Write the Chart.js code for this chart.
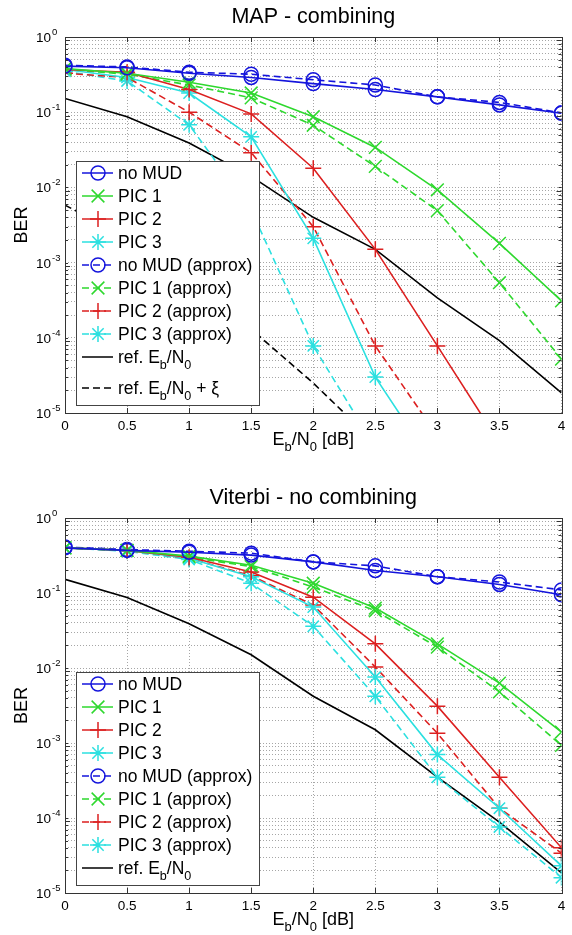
<!DOCTYPE html>
<html>
<head>
<meta charset="utf-8">
<script src="https://cdn.jsdelivr.net/npm/chart.js@4.4.0/dist/chart.umd.min.js"></script>
<style>
body{margin:0;background:#fff;}
canvas{display:block;}
</style>
</head>
<body>
<canvas id="map-chart" width="572" height="467"></canvas>
<canvas id="viterbi-chart" width="572" height="468"></canvas>
<script>
var ebn0 = [0, 0.5, 1, 1.5, 2, 2.5, 3, 3.5, 4];
var xTickLabels = ['0', '0.5', '1', '1.5', '2', '2.5', '3', '3.5', '4'];
var yExponents = [0, -1, -2, -3, -4, -5];
var minorSteps = [1, 2, 3, 4, 5, 6, 7, 8, 9];

// MAP - combining
var mapNoMud       = [0.41, 0.39, 0.33, 0.29, 0.24, 0.20, 0.16, 0.125, 0.097];
var mapPic1        = [0.38, 0.33, 0.25, 0.18, 0.087, 0.034, 0.0093, 0.0018, 0.00031];
var mapPic2        = [0.37, 0.34, 0.20, 0.095, 0.018, 0.0015, 0.000078, 0.000004, null];
var mapPic3        = [0.37, 0.29, 0.18, 0.047, 0.0021, 0.00003, 0.0000017, null, null];
var mapNoMudApprox = [0.42, 0.40, 0.34, 0.32, 0.27, 0.23, 0.16, 0.135, 0.098];
var mapPic1Approx  = [0.37, 0.32, 0.23, 0.155, 0.067, 0.019, 0.0049, 0.00054, 0.000052];
var mapPic2Approx  = [0.33, 0.29, 0.10, 0.029, 0.003, 0.000078, 0.000005, null, null];
var mapPic3Approx  = [0.35, 0.26, 0.068, 0.005, 0.000078, 0.0000035, null, null, null];
var mapRef         = [0.152, 0.087, 0.039, 0.014, 0.004, 0.0015, 0.00034, 0.000092, 0.0000185];
var mapRefXi       = [0.0058, 0.0022, 0.0007, 0.00013, 0.000025, 0.000004, null, null, null];

// Viterbi - no combining
var vitNoMud       = [0.40, 0.37, 0.35, 0.32, 0.26, 0.20, 0.165, 0.13, 0.095];
var vitPic1        = [0.40, 0.37, 0.31, 0.235, 0.135, 0.063, 0.021, 0.0063, 0.0014];
var vitPic2        = [0.40, 0.37, 0.30, 0.19, 0.088, 0.021, 0.0031, 0.00035, 0.00004];
var vitPic3        = [0.40, 0.37, 0.29, 0.165, 0.065, 0.0076, 0.0007, 0.000135, 0.000023];
var vitNoMudApprox = [0.41, 0.38, 0.36, 0.34, 0.26, 0.23, 0.165, 0.14, 0.11];
var vitPic1Approx  = [0.40, 0.37, 0.30, 0.225, 0.12, 0.058, 0.019, 0.0048, 0.00093];
var vitPic2Approx  = [0.40, 0.37, 0.29, 0.17, 0.069, 0.0103, 0.00135, 0.000135, 0.000034];
var vitPic3Approx  = [0.40, 0.36, 0.28, 0.135, 0.036, 0.0042, 0.00035, 0.000076, 0.000016];
var vitRef         = [0.152, 0.087, 0.039, 0.015, 0.0042, 0.0015, 0.00035, 0.000088, 0.0000185];

var BLUE = '#1414dc', GREEN = '#2ed82e', RED = '#dc2020', CYAN = '#2ce0e0', BLACK = '#000';
var FONT = '"Liberation Sans", Arial, Helvetica, sans-serif';

var yGrid = [];
yExponents.forEach(function (e) {
  minorSteps.forEach(function (m) {
    var v = m * Math.pow(10, e);
    if (v <= 1 && v >= 1e-5) yGrid.push(v);
  });
});

function pts(vals) {
  return ebn0.map(function (x, i) { return {x: x, y: vals[i]}; });
}

function series(label, vals, color, marker, dashed) {
  var radius = {circle: 7, crossRot: 9, cross: 8, star: 8}[marker] || 0;
  return {
    label: label,
    data: pts(vals),
    borderColor: color,
    borderWidth: 1.6,
    borderDash: dashed ? [7, 4] : [],
    pointStyle: marker || 'circle',
    pointRadius: radius,
    pointHoverRadius: radius,
    pointBorderColor: color,
    pointBackgroundColor: 'rgba(0,0,0,0)',
    pointBorderWidth: 1.5,
    fill: false,
    tension: 0
  };
}

function richParts(s) {
  var out = [], buf = '', i = 0;
  while (i < s.length) {
    if (s[i] === '_') {
      if (buf) out.push({t: buf, sub: false});
      buf = '';
      out.push({t: s[i + 1], sub: true});
      i += 2;
    } else {
      buf += s[i];
      i++;
    }
  }
  if (buf) out.push({t: buf, sub: false});
  return out;
}

function drawRich(ctx, s, x, y, size, align) {
  var parts = richParts(s), total = 0;
  parts.forEach(function (p) {
    ctx.font = (p.sub ? size * 0.72 : size) + 'px ' + FONT;
    p.w = ctx.measureText(p.t).width;
    total += p.w;
  });
  if (align === 'center') x -= total / 2;
  ctx.textAlign = 'left';
  ctx.textBaseline = 'alphabetic';
  parts.forEach(function (p) {
    ctx.font = (p.sub ? size * 0.72 : size) + 'px ' + FONT;
    ctx.fillText(p.t, x, p.sub ? y + size * 0.32 : y);
    x += p.w;
  });
}

var decor = {
  id: 'decor',
  afterDraw: function (chart, args, opts) {
    var ctx = chart.ctx, a = chart.chartArea;
    var xs = chart.scales.x, ys = chart.scales.y;
    ctx.save();
    ctx.fillStyle = '#000';
    ctx.strokeStyle = '#333';
    ctx.lineWidth = 1;

    // inward tick marks
    ctx.beginPath();
    ebn0.forEach(function (v) {
      var px = Math.round(xs.getPixelForValue(v)) + 0.5;
      ctx.moveTo(px, a.bottom); ctx.lineTo(px, a.bottom - 5);
      ctx.moveTo(px, a.top); ctx.lineTo(px, a.top + 5);
    });
    yGrid.forEach(function (v, i) {
      var py = Math.round(ys.getPixelForValue(v)) + 0.5;
      var len = (i % 9 === 0) ? 5 : 3;
      ctx.moveTo(a.left, py); ctx.lineTo(a.left + len, py);
      ctx.moveTo(a.right, py); ctx.lineTo(a.right - len, py);
    });
    ctx.stroke();
    ctx.strokeRect(Math.round(a.left) + 0.5, Math.round(a.top) + 0.5,
      Math.round(a.right - a.left), Math.round(a.bottom - a.top));

    // tick labels
    ctx.font = '13.5px ' + FONT;
    ctx.textAlign = 'center';
    ctx.textBaseline = 'alphabetic';
    xTickLabels.forEach(function (t) {
      ctx.fillText(t, xs.getPixelForValue(parseFloat(t)), a.bottom + 17);
    });
    yExponents.forEach(function (e) {
      var py = ys.getPixelForValue(Math.pow(10, e));
      ctx.font = '13.5px ' + FONT;
      ctx.textAlign = 'right';
      ctx.fillText('10', a.left - 14, py + 5);
      ctx.font = '9.5px ' + FONT;
      ctx.textAlign = 'left';
      ctx.fillText(String(e), a.left - 13, py - 2);
    });

    // titles
    var cx = (a.left + a.right) / 2;
    ctx.font = '21.5px ' + FONT;
    ctx.textAlign = 'center';
    ctx.fillText(opts.title, cx, a.top - 14);
    drawRich(ctx, 'E_b/N_0 [dB]', cx, a.bottom + 32, 18, 'center');
    ctx.save();
    ctx.translate(22, (a.top + a.bottom) / 2);
    ctx.rotate(-Math.PI / 2);
    ctx.font = '18px ' + FONT;
    ctx.textAlign = 'center';
    ctx.textBaseline = 'middle';
    ctx.fillText('BER', 0, 0);
    ctx.restore();

    // legend box
    var sets = chart.data.datasets, n = sets.length;
    var step = 23, extra = opts.legendExtra || 0;
    var h = 12 + (n - 1) * step + extra + 17;
    var bx = a.left + 11, bw = 183, by = a.bottom - 8 - h;
    ctx.fillStyle = '#fff';
    ctx.fillRect(bx, by, bw, h);
    ctx.strokeStyle = '#444';
    ctx.strokeRect(Math.round(bx) + 0.5, Math.round(by) + 0.5, bw, Math.round(h));
    sets.forEach(function (ds, i) {
      var ry = by + 12 + i * step + (i === n - 1 ? extra : 0);
      ctx.save();
      ctx.strokeStyle = ds.borderColor;
      ctx.lineWidth = 1.5;
      ctx.setLineDash(ds.borderDash || []);
      ctx.beginPath();
      ctx.moveTo(bx + 6, ry); ctx.lineTo(bx + 37, ry);
      ctx.stroke();
      ctx.setLineDash([]);
      if (ds.pointRadius > 0) {
        ctx.fillStyle = 'rgba(0,0,0,0)';
        Chart.helpers.drawPoint(ctx, {pointStyle: ds.pointStyle, radius: ds.pointRadius, rotation: 0, borderWidth: 1.5}, bx + 22, ry);
      }
      ctx.restore();
      ctx.fillStyle = '#000';
      drawRich(ctx, ds.label, bx + 42, ry + 6, 17.5, 'left');
    });
    ctx.restore();
  }
};

function makeChart(id, title, datasets, padTop, padBottom, legendExtra) {
  return new Chart(document.getElementById(id), {
    type: 'line',
    data: {datasets: datasets},
    options: {
      responsive: false,
      animation: false,
      layout: {padding: {left: 65, right: 10, top: padTop, bottom: padBottom}},
      scales: {
        x: {
          type: 'linear', min: 0, max: 4,
          ticks: {display: false, stepSize: 0.5},
          grid: {color: '#a6a6a6', lineWidth: 1, drawTicks: false},
          border: {display: false, dash: [1, 2]}
        },
        y: {
          type: 'logarithmic', min: 1e-5, max: 1,
          ticks: {display: false},
          afterBuildTicks: function (scale) {
            scale.ticks = yGrid.map(function (v) { return {value: v}; });
          },
          grid: {color: '#a6a6a6', lineWidth: 1, drawTicks: false},
          border: {display: false, dash: [1, 2]}
        }
      },
      plugins: {
        legend: {display: false},
        tooltip: {enabled: false},
        decor: {title: title, legendExtra: legendExtra}
      }
    },
    plugins: [decor]
  });
}

makeChart('map-chart', 'MAP - combining', [
  series('no MUD', mapNoMud, BLUE, 'circle', false),
  series('PIC 1', mapPic1, GREEN, 'crossRot', false),
  series('PIC 2', mapPic2, RED, 'cross', false),
  series('PIC 3', mapPic3, CYAN, 'star', false),
  series('no MUD (approx)', mapNoMudApprox, BLUE, 'circle', true),
  series('PIC 1 (approx)', mapPic1Approx, GREEN, 'crossRot', true),
  series('PIC 2 (approx)', mapPic2Approx, RED, 'cross', true),
  series('PIC 3 (approx)', mapPic3Approx, CYAN, 'star', true),
  series('ref. E_b/N_0', mapRef, BLACK, null, false),
  series('ref. E_b/N_0 + \u03be', mapRefXi, BLACK, null, true)
], 37, 54, 8);

makeChart('viterbi-chart', 'Viterbi - no combining', [
  series('no MUD', vitNoMud, BLUE, 'circle', false),
  series('PIC 1', vitPic1, GREEN, 'crossRot', false),
  series('PIC 2', vitPic2, RED, 'cross', false),
  series('PIC 3', vitPic3, CYAN, 'star', false),
  series('no MUD (approx)', vitNoMudApprox, BLUE, 'circle', true),
  series('PIC 1 (approx)', vitPic1Approx, GREEN, 'crossRot', true),
  series('PIC 2 (approx)', vitPic2Approx, RED, 'cross', true),
  series('PIC 3 (approx)', vitPic3Approx, CYAN, 'star', true),
  series('ref. E_b/N_0', vitRef, BLACK, null, false)
], 51, 42, 0);
</script>
</body>
</html>
